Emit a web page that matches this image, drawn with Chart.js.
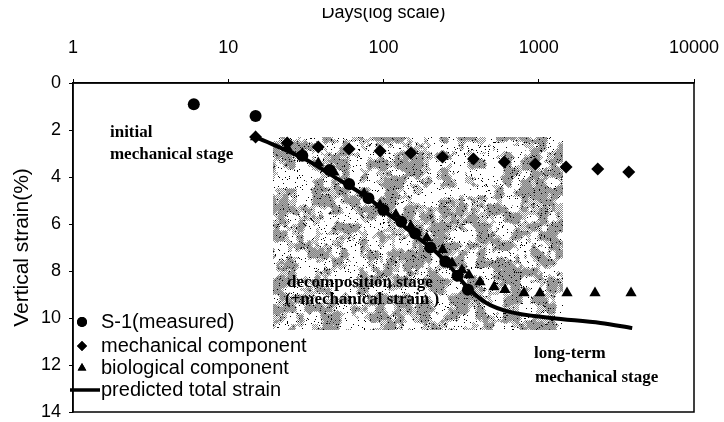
<!DOCTYPE html>
<html><head><meta charset="utf-8">
<script src="https://cdn.jsdelivr.net/npm/chart.js@4.4.0/dist/chart.umd.min.js"></script>
<style>html,body{margin:0;padding:0;background:#fff;overflow:hidden}
#wrap{position:relative;width:724px;height:422px}</style></head>
<body><div id="wrap"><canvas id="c" width="724" height="422"></canvas></div>
<script>
// ---- data ----
const xTickValues = [1, 10, 100, 1000, 10000];
const yTickValues = [0, 2, 4, 6, 8, 10, 12, 14];

const measuredDays   = [6, 15, 30, 45, 60, 80, 100, 130, 160, 200, 250, 300, 350];
const measuredStrain = [0.9, 1.4, 3.1, 3.7, 4.3, 4.9, 5.4, 5.9, 6.4, 7.0, 7.6, 8.2, 8.8];

const mechDays   = [15, 24, 38, 60, 95, 150, 240, 380, 600, 950, 1500, 2400, 3800];
const mechStrain = [2.3, 2.55, 2.72, 2.81, 2.89, 2.98, 3.15, 3.23, 3.36, 3.45, 3.57, 3.66, 3.79];

const bioDays   = [15, 24, 30, 38, 48, 60, 75, 95, 120, 150, 190, 240, 276, 320, 355, 418, 515, 606, 803, 1019, 1521, 2303, 3930];
const bioStrain = [2.3, 2.75, 3.0, 3.4, 3.8, 4.3, 4.7, 5.2, 5.6, 6.1, 6.6, 7.1, 7.66, 7.96, 8.17, 8.47, 8.68, 8.8, 8.94, 8.94, 8.94, 8.94, 8.94];

const predDays   = [15, 32, 52, 78, 105, 125, 160, 210, 270, 345, 460, 650, 1200, 2500, 4000];
const predStrain = [2.3, 3.28, 4.13, 4.85, 5.53, 5.9, 6.5, 7.1, 7.83, 8.68, 9.36, 9.74, 10.0, 10.21, 10.43];

const seriesNames = ['S-1(measured)', 'mechanical component', 'biological component', 'predicted total strain'];

// decomposition-stage band (days from / to, strain from / to)
const bandDays = [19.5, 1430];
const bandStrain = [2.3, 10.5];

// stage notes: [text, day, strain]
const stageNotes = [
  ['initial', 1.73, 2.1],
  ['mechanical stage', 1.73, 3.05],
  ['decomposition stage', 23.9, 8.5],
  ['(+mechanical strain )', 23.2, 9.23],
  ['long-term', 931, 11.5],
  ['mechanical stage', 946, 12.55]
];

// ---- helpers ----
const toPts = (xs, ys) => xs.map((x, i) => ({x, y: ys[i]}));
function hash(x, y) {
  let n = Math.imul(x, 374761393) + Math.imul(y, 668265263);
  n = Math.imul(n ^ (n >>> 13), 1274126177);
  n = n ^ (n >>> 16);
  return (n >>> 0) / 4294967295;
}
function vnoise(x, y) {
  const xi = Math.floor(x), yi = Math.floor(y), xf = x - xi, yf = y - yi;
  const s = t => t * t * (3 - 2 * t);
  const a = hash(xi, yi), b = hash(xi + 1, yi), c = hash(xi, yi + 1), d = hash(xi + 1, yi + 1);
  const u = s(xf), v = s(yf);
  return a + (b - a) * u + (c - a) * v + (a - b - c + d) * u * v;
}
function makeTexture(w, h) {
  const cv = document.createElement('canvas');
  cv.width = w; cv.height = h;
  const g = cv.getContext('2d');
  const img = g.createImageData(w, h);
  for (let y = 0; y < h; y++) for (let x = 0; x < w; x++) {
    const n = 0.65 * vnoise(x / 9, y / 9) + 0.35 * vnoise(x / 4 + 50, y / 4 + 50);
    let v = 255;
    if (n > 0.56) v = ((x + y) & 1) ? 130 : 175;
    else if (n > 0.44) v = ((x + y) & 1) ? 140 : 255;
    const r = hash(x + 999, y + 77);
    if (r < 0.035) v = 0;
    else if (r < 0.06 && n > 0.5) v = 40;
    const k = (y * w + x) * 4;
    img.data[k] = img.data[k + 1] = img.data[k + 2] = v; img.data[k + 3] = 255;
  }
  g.putImageData(img, 0, 0);
  return cv;
}

const SANS = "'Liberation Sans', Arial, sans-serif";
const SERIF = "'Liberation Serif', 'Times New Roman', serif";

const bandPlugin = {
  id: 'band',
  beforeDatasetsDraw(chart) {
    const {ctx, scales: {x, y}} = chart;
    const x0 = Math.round(x.getPixelForValue(bandDays[0])), x1 = Math.round(x.getPixelForValue(bandDays[1]));
    const y0 = Math.round(y.getPixelForValue(bandStrain[0])), y1 = Math.round(y.getPixelForValue(bandStrain[1]));
    ctx.save();
    ctx.drawImage(makeTexture(x1 - x0, y1 - y0), x0, y0);
    ctx.fillStyle = '#000';
    ctx.textBaseline = 'middle';
    ctx.textAlign = 'left';
    ctx.font = 'bold 17px ' + SERIF;
    stageNotes.forEach(([t, d, s]) => {
      ctx.fillText(t, x.getPixelForValue(d), y.getPixelForValue(s));
    });
    ctx.restore();
  },
  afterDraw(chart) {
    const {ctx, chartArea: a} = chart;
    ctx.save();
    // the scanned original has its top strip cut off through the axis title
    ctx.fillStyle = '#fff';
    ctx.fillRect(a.left + 150, 0, a.right - a.left - 300, 8);
    ctx.strokeStyle = '#000';
    ctx.lineWidth = 1.5;
    ctx.strokeRect(a.left, a.top, a.right - a.left, a.bottom - a.top);
    // legend inside plot area
    const rows = [a.bottom - 90, a.bottom - 66, a.bottom - 44, a.bottom - 22];
    const mx = a.left + 9;
    ctx.fillStyle = '#000';
    ctx.font = '20px ' + SANS;
    ctx.textBaseline = 'middle';
    ctx.textAlign = 'left';
    chart.data.datasets.forEach((ds, i) => {
      const ry = rows[i];
      if (ds.showLine) {
        ctx.lineWidth = 3.5;
        ctx.beginPath(); ctx.moveTo(a.left - 3, ry); ctx.lineTo(a.left + 27, ry); ctx.stroke();
      } else {
        Chart.helpers.drawPoint(ctx, {pointStyle: ds.pointStyle, radius: 5, borderWidth: 0, rotation: 0}, mx, ry);
        ctx.fill();
      }
      ctx.fillText(ds.label, a.left + 28, ry);
    });
    ctx.restore();
  }
};

new Chart(document.getElementById('c'), {
  type: 'scatter',
  data: {
    datasets: [
      {label: seriesNames[0], data: toPts(measuredDays, measuredStrain), pointStyle: 'circle', pointRadius: 6, backgroundColor: '#000', borderColor: '#000', borderWidth: 0},
      {label: seriesNames[1], data: toPts(mechDays, mechStrain), pointStyle: 'rectRot', pointRadius: 6.5, backgroundColor: '#000', borderColor: '#000', borderWidth: 0},
      {label: seriesNames[2], data: toPts(bioDays, bioStrain), pointStyle: 'triangle', pointRadius: 6.5, backgroundColor: '#000', borderColor: '#000', borderWidth: 0},
      {label: seriesNames[3], data: toPts(predDays, predStrain), showLine: true, pointRadius: 0, borderColor: '#000', borderWidth: 4, cubicInterpolationMode: 'monotone', backgroundColor: '#000'}
    ]
  },
  options: {
    responsive: false,
    animation: false,
    layout: {padding: {left: 0, top: 0, right: 30, bottom: 10}},
    plugins: {legend: {display: false}, tooltip: {enabled: false}},
    scales: {
      x: {
        type: 'logarithmic', position: 'top', min: 1, max: 10000,
        afterBuildTicks: s => { s.ticks = xTickValues.map(v => ({value: v})); },
        afterFit: s => { s.height = 83; s.paddingLeft = 0; s.paddingRight = 0; s.paddingTop = 0; s.paddingBottom = 0; },
        ticks: {callback: v => String(v), font: {family: SANS, size: 18}, color: '#000', padding: 20, maxRotation: 0, autoSkip: false},
        grid: {display: true, drawOnChartArea: false, tickLength: 4, color: '#000', lineWidth: 1},
        border: {display: true, color: '#000', width: 1.5},
        title: {display: true, text: 'Days(log scale)', color: '#000', font: {family: SANS, size: 18}, padding: {top: 2, bottom: 0}}
      },
      y: {
        type: 'linear', reverse: true, min: 0, max: 14,
        afterBuildTicks: s => { s.ticks = yTickValues.map(v => ({value: v})); },
        afterFit: s => { s.width = 73; s.paddingLeft = 0; s.paddingRight = 0; s.paddingTop = 0; s.paddingBottom = 0; },
        ticks: {font: {family: SANS, size: 18}, color: '#000', padding: 8},
        grid: {display: true, drawOnChartArea: false, tickLength: 4, color: '#000', lineWidth: 1},
        border: {display: true, color: '#000', width: 1.5},
        title: {display: true, text: 'Vertical strain(%)', color: '#000', font: {family: SANS, size: 21}, padding: {top: 10, bottom: 0}}
      }
    }
  },
  plugins: [bandPlugin]
});
</script></body></html>
